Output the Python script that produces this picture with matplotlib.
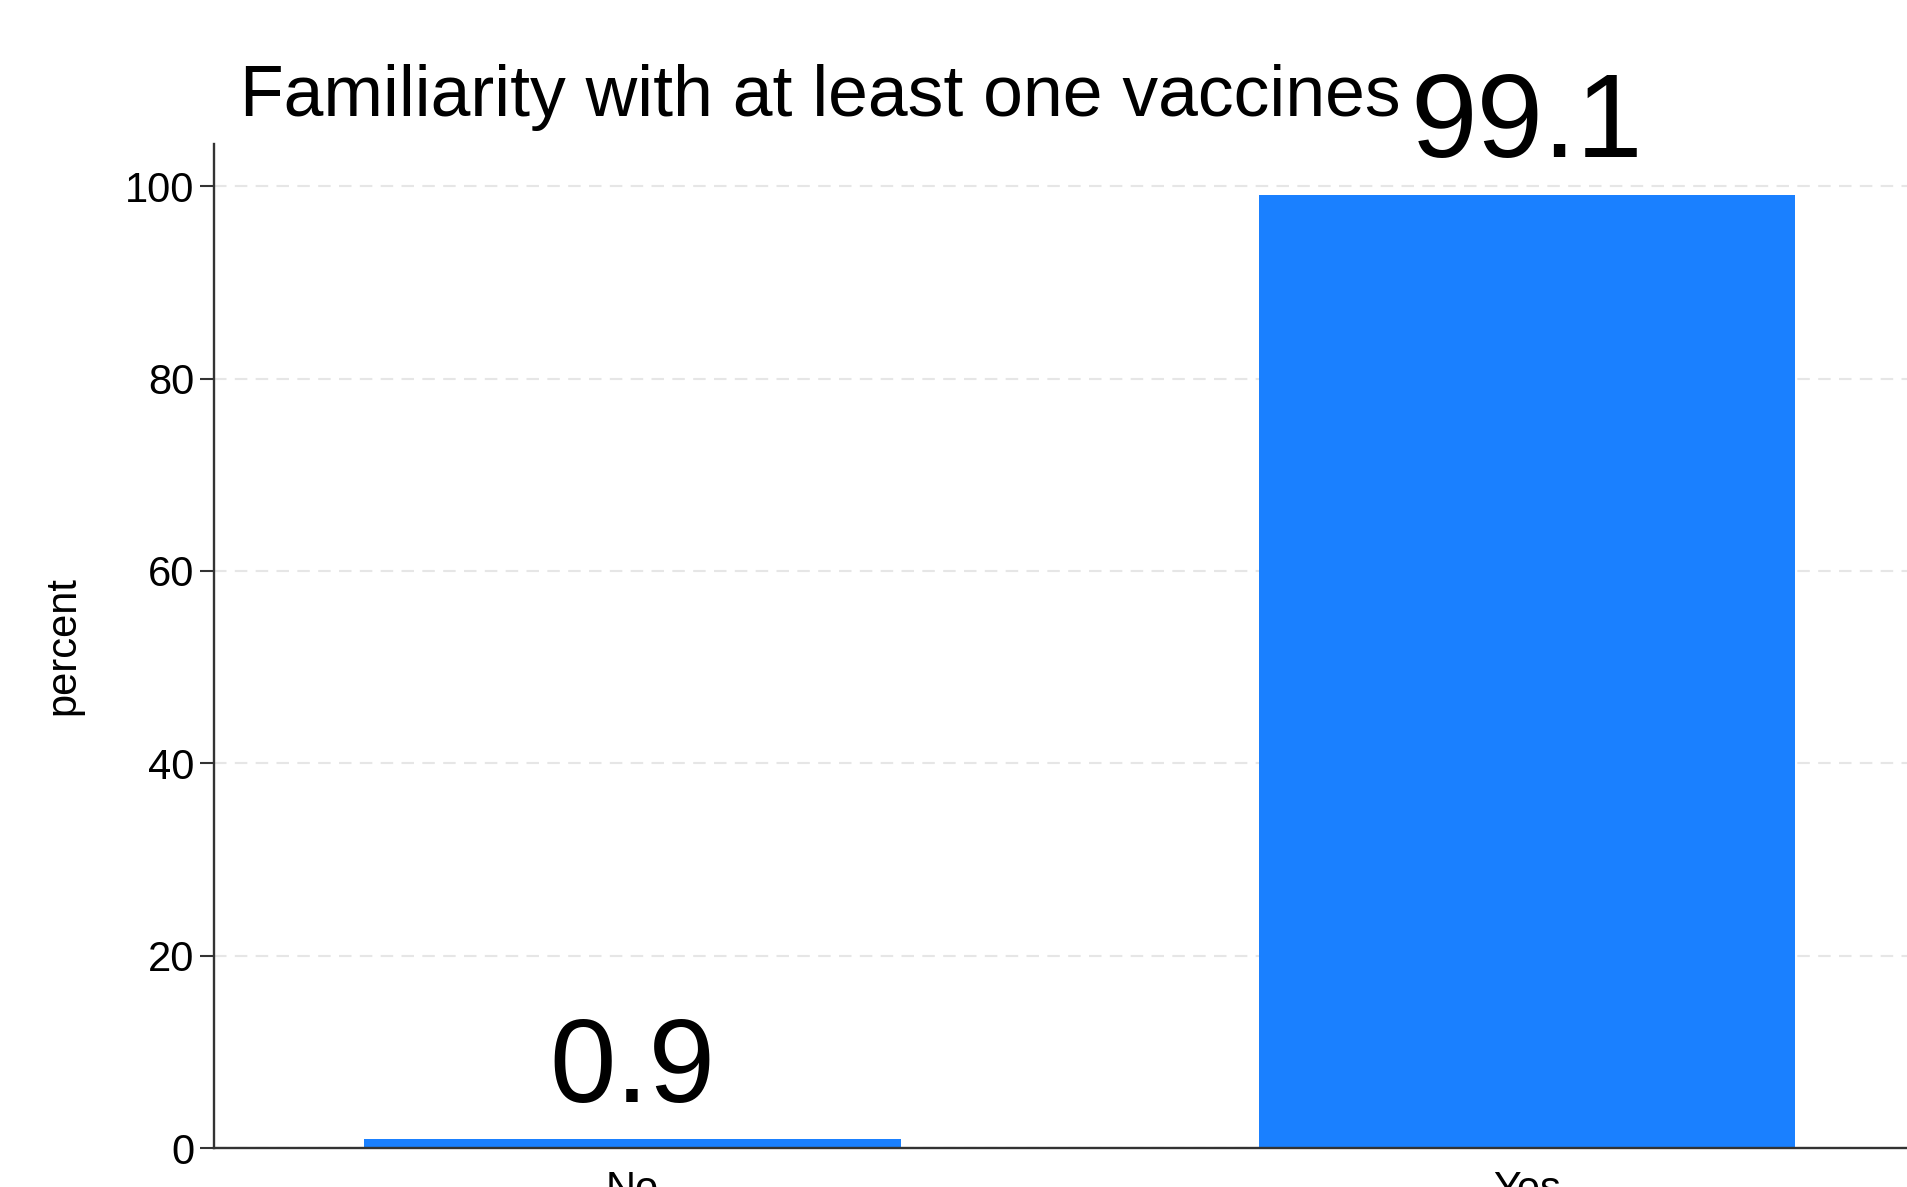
import matplotlib
matplotlib.use("Agg")
import matplotlib.pyplot as plt

categories = ["No", "Yes"]
values = [0.9, 99.1]
value_labels = ["0.9", "99.1"]
yticks = [0, 20, 40, 60, 80, 100]
title = "Familiarity with at least one vaccines"
ylabel = "percent"

plt.rcParams['font.family'] = ['Liberation Sans', 'DejaVu Sans']

W, H = 1908, 1187
fig = plt.figure(figsize=(W / 100, H / 100), dpi=100)
left = 214 / W
bottom = (H - 1148) / H
top = (H - 144) / H
ax = fig.add_axes([left, bottom, 1.0 - left, top - bottom])

x = list(range(len(categories)))
bars = ax.bar(x, values, width=0.6, color="#1a80ff", zorder=2)

for xi, v, lab in zip(x, values, value_labels):
    ax.annotate(lab, xy=(xi, v), xytext=(0, 27), textcoords="offset points",
                ha="center", va="baseline", fontsize=86, color="black")

ax.set_xlim(-0.468, 1.426)
ax.set_ylim(0, 104.4)
ax.set_yticks(yticks)
ax.set_yticklabels([str(t) for t in yticks])
ax.set_xticks(x)
ax.set_xticklabels(categories)
ax.tick_params(axis="y", labelsize=30, length=10, width=1.5, color="#333333", pad=4)
ax.tick_params(axis="x", labelsize=30, length=0, pad=16)

ax.yaxis.grid(True, color="#e6e6e6", linestyle=(0, (6, 4)), linewidth=1.5, zorder=0)
ax.set_axisbelow(True)

for s in ["top", "right"]:
    ax.spines[s].set_visible(False)
for s in ["left", "bottom"]:
    ax.spines[s].set_color("#333333")
    ax.spines[s].set_linewidth(1.7)

ax.set_ylabel(ylabel, fontsize=30, labelpad=30)

fig.text(240 / W, 1 - 116 / H, title, fontsize=51.5, ha="left", va="baseline")

fig.savefig("out.png", dpi=100)
